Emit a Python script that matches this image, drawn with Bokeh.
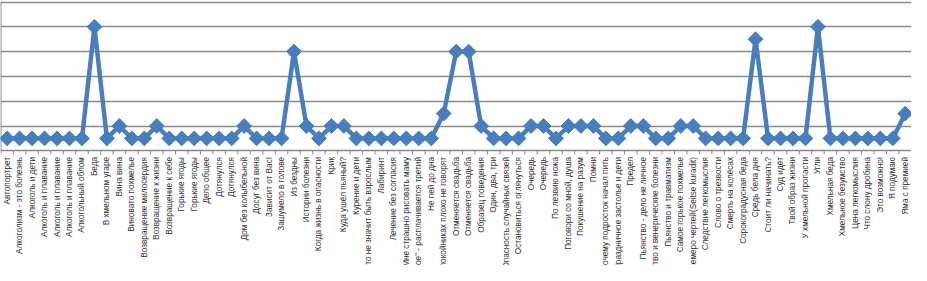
import math
from bokeh.plotting import figure
from bokeh.models import ColumnDataSource, Range1d, Grid, FixedTicker
from bokeh.core.properties import value
from bokeh.embed import file_html
from bokeh.resources import INLINE

# ---- data ----
titles = [
    "Автопортрет", "Алкоголизм - это болезнь", "Алкоголь и дети",
    "Алкоголь и плавание", "Алкоголь и плавание", "Алкоголь и плавание",
    "Алкогольный облом", "Беда", "В хмельном угаре", "Вина вина",
    "Виновато похмелье", "Возвращение милосердия", "Возвращение к жизни",
    "Возвращение к себе", "Горькие ягоды", "Горькие ягоды", "Дело общее",
    "Дотянулся", "Дотянулся", "Дом без колыбельной", "Досуг без вина",
    "Зависит от Вас!", "Зашумело в голове", "Из бездны", "Истории болезни",
    "Когда жизнь в опасности", "Крик", "Куда ушёл пьяный?", "Курение и дети",
    "Курить - это не значит быть взрослым", "Лабиринт", "Лечение без согласия",
    "Мне страшно рисовать маму", "\"Пьют трое\" - расплачивается третий",
    "Не пей до дна", "О покойниках плохо не говорят", "Отменяется свадьба",
    "Отменяется свадьба", "Образец поведения", "Один, два, три",
    "Опасность случайных связей", "Остановиться оглянуться", "Очередь",
    "Очередь", "По лезвию ножа", "Поговори со мной, душа",
    "Покушение на разум", "Помни", "Почему подросток начал пить",
    "Праздничное застолье и дети", "Предел", "Пьянство - дело не личное",
    "Пьянство и венерические болезни", "Пьянство и травматизм",
    "Самое горькое похмелье", "Семеро чертей(Seitse kuradit)",
    "Следствие легкомыслия", "Слово о трезвости", "Смерть на колёсах",
    "Сорокоградусная беда", "Средь бела дня", "Стоит ли начинать?",
    "Суд идёт", "Твой образ жизни", "У хмельной пропасти", "Угли",
    "Хмельная беда", "Хмельное безумство", "Цена легкомыслия",
    "Что слону дробина", "Это возможно!", "Я подумаю", "Яма с премией",
]
counts = [
    1, 1, 1, 1, 1, 1, 1, 10, 1, 2,
    1, 1, 2, 1, 1, 1, 1, 1, 1, 2,
    1, 1, 1, 8, 2, 1, 2, 2, 1, 1,
    1, 1, 1, 1, 1, 3, 8, 8, 2, 1,
    1, 1, 2, 2, 1, 2, 2, 2, 1, 1,
    2, 2, 1, 1, 2, 2, 1, 1, 1, 1,
    9, 1, 1, 1, 1, 10, 1, 1, 1, 1,
    1, 1, 3,
]
y_ticks = [0, 2, 4, 6, 8, 10, 12]

# ---- style ----
BLUE = "#4A7EBB"
GRID = "#8A8A8A"
LABEL = "#333333"
FONT = "Liberation Sans"

n = len(titles)
xs = list(range(1, n + 1))
src = ColumnDataSource(dict(x=xs, y=counts, label=titles))

px_per_unit = 12.4
H = 265
y_top = y_ticks[-1] + 1.5 / px_per_unit
y_bot = y_top - H / px_per_unit

p = figure(width=911, height=H, output_backend="svg", toolbar_location=None,
           x_axis_type=None, y_axis_type=None,
           x_range=Range1d(0.47, n + 0.5), y_range=Range1d(y_bot, y_top),
           min_border=0, min_border_left=0, min_border_right=0,
           min_border_top=0, min_border_bottom=0)
p.outline_line_color = None
p.background_fill_color = "white"
p.border_fill_color = "white"

# horizontal gridlines
grid = Grid(dimension=1, ticker=FixedTicker(ticks=y_ticks),
            grid_line_color=GRID, grid_line_width=1.3)
p.add_layout(grid)

# left axis line
p.segment(x0=[0.5], y0=[y_ticks[0]], x1=[0.5], y1=[y_ticks[-1]],
          line_color=GRID, line_width=1.3)
# category boundary ticks under the x axis
bounds = [i + 0.5 for i in range(0, n + 1)]
p.segment(x0=bounds, y0=[0] * len(bounds), x1=bounds, y1=[-0.3] * len(bounds),
          line_color=GRID, line_width=1)

# series
p.line("x", "y", source=src, line_color=BLUE, line_width=4.5, line_join="round")
p.scatter("x", "y", source=src, marker="square", angle=math.pi / 4, size=10.5,
          fill_color=BLUE, line_color=BLUE)

# category labels (rotated, running off the bottom edge as in the original)
p.text(x="x", y=-0.5, text="label", source=src, angle=math.pi / 2,
       text_align="right", text_baseline="middle",
       text_font=value(FONT), text_font_size="8.2px", text_color=LABEL)

open("out.html", "w").write(file_html(p, INLINE))
